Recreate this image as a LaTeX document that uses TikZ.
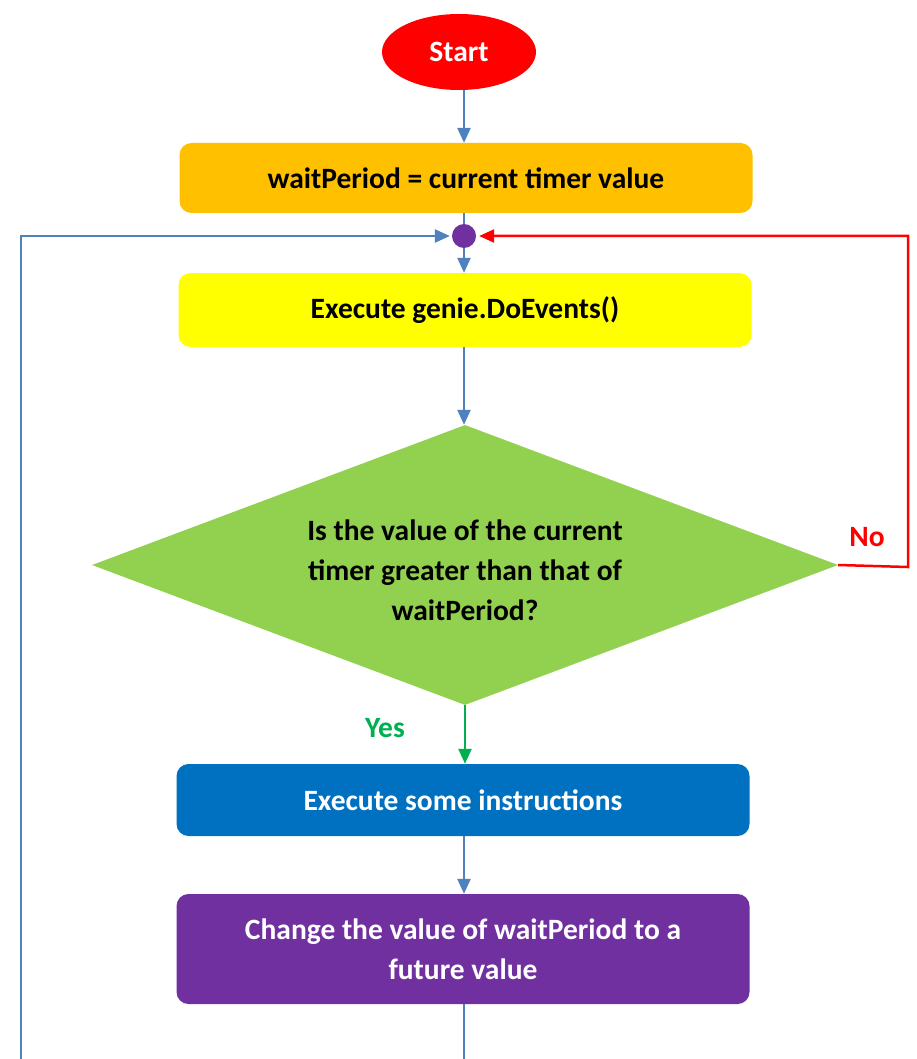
\documentclass[tikz,border=0pt]{standalone}
\usepackage{fontspec}
\setmainfont{Carlito}
\usetikzlibrary{arrows.meta,positioning,shapes.geometric,calc}
\definecolor{lineblue}{RGB}{79,129,189}
\definecolor{startred}{RGB}{255,0,0}
\definecolor{initorange}{RGB}{255,192,0}
\definecolor{evyellow}{RGB}{255,255,0}
\definecolor{testgreen}{RGB}{146,208,80}
\definecolor{yesgreen}{RGB}{0,176,80}
\definecolor{workblue}{RGB}{0,112,192}
\definecolor{updpurple}{RGB}{112,48,160}

\begin{document}
\begin{tikzpicture}[x=1pt,y=-1pt,
  txt/.style={font=\bfseries\fontsize{29.5}{40}\selectfont},
  box/.style={txt,rounded corners=12pt,minimum width=573pt,align=center,inner sep=0pt},
  flow/.style={draw=lineblue,line width=2.5pt,-{Triangle[length=15pt,width=13pt]}},
  plain/.style={draw=lineblue,line width=2.5pt}]
  \useasboundingbox (0,0) rectangle (917,1059);

  % boxes of the loop
  \node[ellipse,fill=startred,text=white,txt,minimum width=154pt,minimum height=76pt,inner sep=0pt] (start) at (459,52) {Start};
  \node[box,fill=initorange,minimum height=70pt] (init) at (466,178) {waitPeriod = current timer value};
  \node[circle,fill=updpurple,minimum size=24pt,inner sep=0pt] (junc) at (464,236) {};
  \node[box,fill=evyellow,minimum height=74pt] (events) at (465,310) {Execute genie.DoEvents()};
  \node[diamond,fill=testgreen,minimum width=746pt,minimum height=280pt,inner sep=0pt] (test) at (465,565) {};
  \node[txt,align=center] (question) at (465,570) {Is the value of the current\\timer greater than that of\\waitPeriod?};
  \node[box,fill=workblue,text=white,minimum height=72pt] (work) at (463,800) {Execute some instructions};
  \node[box,fill=updpurple,text=white,minimum height=110pt] (update) at (463,949) {Change the value of waitPeriod to a\\future value};

  % labels
  \node[txt,text=startred] (no) at (867,537) {No};
  \node[txt,text=yesgreen] (yes) at (385,728) {Yes};

  % connectors
  \draw[flow] (start.south -| junc) -- (init.north -| junc);
  \draw[plain] (init.south -| junc) -- (junc);
  \draw[flow] (junc) -- (events.north -| junc);
  \draw[flow] (events.south -| junc) -- (test.north -| junc);
  \draw[draw=yesgreen,line width=2.5pt,-{Triangle[length=15pt,width=13pt]}] (test.south) -- (work.north -| test.south);
  \draw[flow] (work.south -| junc) -- (update.north -| junc);
  \coordinate (downend) at (464,1059);
  \draw[plain] (update.south -| downend) -- (downend);

  % back edges into the junction
  \coordinate (leftfoot) at (21,1059);
  \draw[flow] (leftfoot) -- (leftfoot |- junc) -- ([xshift=-2pt]junc.west);
  \coordinate (rightbend) at (908,567);
  \draw[draw=startred,line width=2.5pt,-{Triangle[length=15pt,width=13pt]}] (test.east) -- (rightbend) -- (rightbend |- junc) -- ([xshift=3pt]junc.east);
\end{tikzpicture}
\end{document}
